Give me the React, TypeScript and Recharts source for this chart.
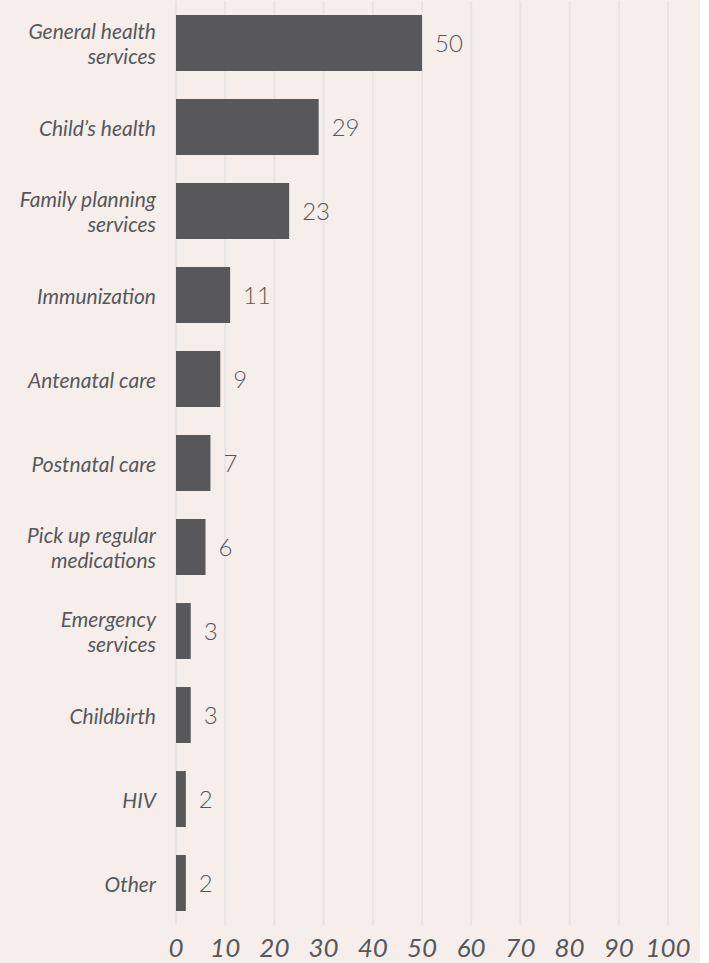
import React from "react";
import { BarChart, Bar, XAxis, YAxis, CartesianGrid, LabelList } from "recharts";

const categories = [
  "General health services",
  "Child's health",
  "Family planning services",
  "Immunization",
  "Antenatal care",
  "Postnatal care",
  "Pick up regular medications",
  "Emergency services",
  "Childbirth",
  "HIV",
  "Other",
];
const categoryLines: string[][] = [
  ["General health", "services"],
  ["Child\u2019s health"],
  ["Family planning", "services"],
  ["Immunization"],
  ["Antenatal care"],
  ["Postnatal care"],
  ["Pick up regular", "medications"],
  ["Emergency", "services"],
  ["Childbirth"],
  ["HIV"],
  ["Other"],
];
const values = [50, 29, 23, 11, 9, 7, 6, 3, 3, 2, 2];
const xTicks = [0, 10, 20, 30, 40, 50, 60, 70, 80, 90, 100];

const data = categories.map((c, i) => ({ name: c, value: values[i] }));

const TEXT = "#58585a";
const BG = "#f5eeeb";

const YTick = (props: any) => {
  const { x, y, payload } = props;
  const idx = categories.indexOf(payload.value);
  const lines = idx >= 0 ? categoryLines[idx] : [String(payload.value)];
  const lh = 25;
  const start = -((lines.length - 1) * lh) / 2;
  return (
    <text
      x={x}
      y={y}
      textAnchor="end"
      fill={TEXT}
      fontFamily="Lato"
      fontStyle="italic"
      fontSize={21}
    >
      {lines.map((l, i) => (
        <tspan key={i} x={x} y={y + start + i * lh} dominantBaseline="central">
          {l}
        </tspan>
      ))}
    </text>
  );
};

const XTick = (props: any) => {
  const { x, y, payload } = props;
  return (
    <text
      x={x}
      y={y + 30}
      textAnchor="middle"
      fill={TEXT}
      fontFamily="Lato"
      fontStyle="italic"
      fontSize={26}
    >
      {payload.value}
    </text>
  );
};

export default function App() {
  return (
    <div style={{ position: "absolute", left: 0, top: 0, width: 700, height: 963, background: BG }}>
      <BarChart
        width={700}
        height={963}
        data={data}
        layout="vertical"
        margin={{ top: 1, right: 32, bottom: 0, left: 0 }}
        barCategoryGap="16.7%"
      >
        <CartesianGrid horizontal={false} vertical={true} stroke="#e6e4e4" strokeWidth={2} />
        <XAxis
          type="number"
          domain={[0, 100]}
          ticks={xTicks}
          axisLine={false}
          tickLine={false}
          tickSize={0}
          height={38}
          tick={<XTick />}
          interval={0}
        />
        <YAxis
          type="category"
          dataKey="name"
          width={176}
          axisLine={false}
          tickLine={false}
          tickSize={0}
          tickMargin={20}
          tick={<YTick />}
          interval={0}
        />
        <Bar dataKey="value" fill="#58585a" isAnimationActive={false}>
          <LabelList
            dataKey="value"
            position="right"
            offset={13}
            fill={TEXT}
            fontFamily="Lato"
            fontWeight={300}
            fontSize={24}
          />
        </Bar>
      </BarChart>
    </div>
  );
}
